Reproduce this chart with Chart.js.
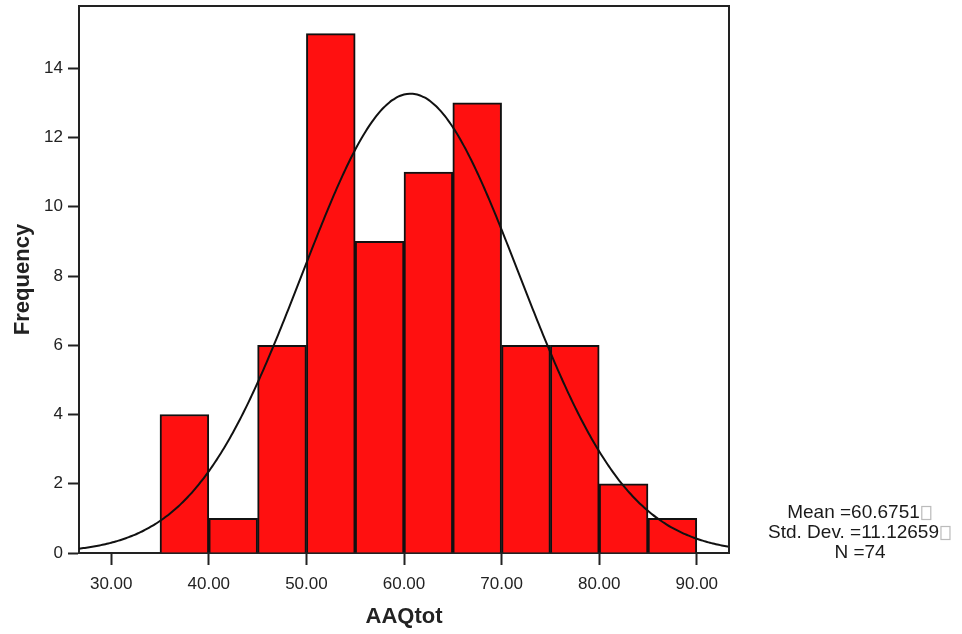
<!DOCTYPE html>
<html>
<head>
<meta charset="utf-8">
<title>AAQtot</title>
<script src="https://cdn.jsdelivr.net/npm/chart.js@4.4.1/dist/chart.umd.min.js"></script>
<style>
  html, body { margin: 0; padding: 0; background: #fff; }
  canvas { display: block; }
</style>
</head>
<body>
<canvas id="histChart" width="962" height="634"></canvas>
<script>
// histogram bins (lower edge) and counts
const binStarts = [35, 40, 45, 50, 55, 60, 65, 70, 75, 80, 85];
const binCounts = [4, 1, 6, 15, 9, 11, 13, 6, 6, 2, 1];
const binWidth = 5;

// summary statistics shown beside the plot
const meanValue = 60.6751;
const stdDev = 11.12659;
const nCases = 74;

const xTicks = [30, 40, 50, 60, 70, 80, 90];
const yTicks = [0, 2, 4, 6, 8, 10, 12, 14];

const xMin = 26.7, xMax = 93.3, yMax = 15.8;

const barPoints = binStarts.map((s, i) => ({ x: s + binWidth / 2, y: binCounts[i] }));

// fitted normal curve scaled to counts
const curvePoints = [];
for (let x = xMin; x <= xMax + 0.001; x += 0.3) {
  const z = (x - meanValue) / stdDev;
  const y = nCases * binWidth / (stdDev * Math.sqrt(2 * Math.PI)) * Math.exp(-0.5 * z * z);
  curvePoints.push({ x: x, y: y });
}

const fontFam = "'Liberation Sans', Arial, sans-serif";

const framePlugin = {
  id: 'frame',
  afterDraw(chart) {
    const { ctx, chartArea: a } = chart;
    ctx.save();
    ctx.strokeStyle = '#222';
    ctx.lineWidth = 2;
    ctx.beginPath();
    ctx.moveTo(a.left, a.top);
    ctx.lineTo(a.right, a.top);
    ctx.lineTo(a.right, a.bottom);
    ctx.stroke();

    // stats block on the right
    ctx.font = '19px ' + fontFam;
    ctx.textBaseline = 'middle';
    const lines = [
      ['Mean =' + meanValue.toFixed(4), true],
      ['Std. Dev. =' + stdDev.toFixed(5), true],
      ['N =' + nCases, false]
    ];
    const cx = 860, y0 = 513, lh = 20;
    lines.forEach(([txt, box], i) => {
      const w = ctx.measureText(txt).width;
      const bw = box ? 13 : 0;
      const start = cx - (w + bw) / 2;
      ctx.fillStyle = '#1a1a1a';
      ctx.textAlign = 'left';
      ctx.fillText(txt, start, y0 + i * lh);
      if (box) {
        ctx.strokeStyle = '#bbb';
        ctx.lineWidth = 1.2;
        ctx.strokeRect(start + w + 2, y0 + i * lh - 6.5, 9, 13);
      }
    });
    ctx.restore();
  }
};

new Chart(document.getElementById('histChart'), {
  data: {
    datasets: [
      {
        type: 'line',
        data: curvePoints,
        borderColor: '#111',
        borderWidth: 2,
        pointRadius: 0,
        tension: 0.3,
        fill: false,
        order: 0
      },
      {
        type: 'bar',
        data: barPoints,
        backgroundColor: '#ff1010',
        borderColor: '#111',
        borderWidth: 2,
        barPercentage: 1,
        categoryPercentage: 1,
        grouped: false,
        order: 1
      }
    ]
  },
  options: {
    responsive: false,
    animation: false,
    layout: { padding: { top: 6, right: 233, left: 0, bottom: 0 } },
    plugins: { legend: { display: false }, tooltip: { enabled: false } },
    scales: {
      x: {
        type: 'linear',
        offset: false,
        min: xMin,
        max: xMax,
        afterBuildTicks: s => { s.ticks = xTicks.map(v => ({ value: v })); },
        afterFit: s => { s.height = 81; s.paddingLeft = 0; s.paddingRight = 0; },
        grid: { offset: false, drawOnChartArea: false, drawTicks: true, tickLength: 12, tickColor: '#222', tickWidth: 2 },
        border: { color: '#222', width: 2 },
        ticks: {
          color: '#222',
          font: { family: fontFam, size: 17 },
          padding: 9,
          maxRotation: 0,
          callback: v => v.toFixed(2)
        },
        title: {
          display: true,
          text: 'AAQtot',
          color: '#222',
          font: { family: fontFam, size: 22, weight: 'bold' },
          padding: { top: 4, bottom: 4 }
        }
      },
      y: {
        min: 0,
        max: yMax,
        afterBuildTicks: s => { s.ticks = yTicks.map(v => ({ value: v })); },
        afterFit: s => { s.width = 79; s.paddingTop = 0; s.paddingBottom = 0; },
        grid: { drawOnChartArea: false, drawTicks: true, tickLength: 11, tickColor: '#222', tickWidth: 2 },
        border: { color: '#222', width: 2 },
        ticks: {
          color: '#222',
          font: { family: fontFam, size: 17 },
          padding: 5,
          callback: v => String(v)
        },
        title: {
          display: true,
          text: 'Frequency',
          color: '#222',
          font: { family: fontFam, size: 22, weight: 'bold' },
          padding: { top: 10, bottom: 4 }
        }
      }
    }
  },
  plugins: [framePlugin]
});
</script>
</body>
</html>
